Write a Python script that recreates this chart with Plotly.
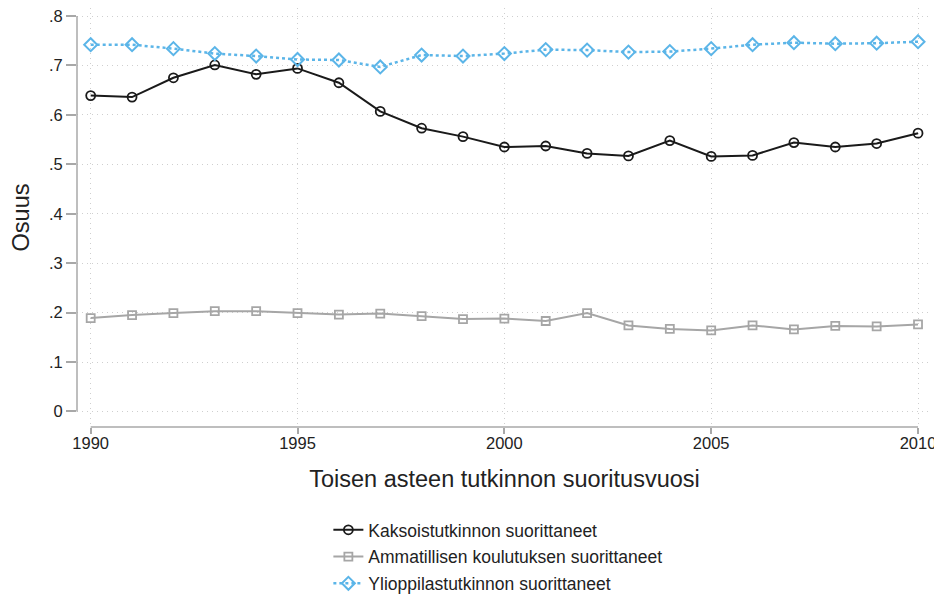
import plotly.graph_objects as go

years = list(range(1990, 2011))
kaksois = [0.639, 0.636, 0.675, 0.701, 0.682, 0.694, 0.665, 0.607, 0.573, 0.556, 0.535,
           0.537, 0.522, 0.517, 0.548, 0.516, 0.518, 0.544, 0.535, 0.542, 0.563]
ammatillinen = [0.189, 0.195, 0.199, 0.203, 0.203, 0.199, 0.196, 0.198, 0.193, 0.187, 0.188,
                0.183, 0.199, 0.174, 0.167, 0.164, 0.174, 0.166, 0.173, 0.172, 0.176]
ylioppilas = [0.742, 0.742, 0.734, 0.724, 0.719, 0.712, 0.711, 0.697, 0.721, 0.719, 0.724,
              0.732, 0.731, 0.727, 0.728, 0.734, 0.742, 0.746, 0.744, 0.745, 0.748]

names = ["Kaksoistutkinnon suorittaneet", "Ammatillisen koulutuksen suorittaneet",
         "Ylioppilastutkinnon suorittaneet"]
ytickvals = [0, 0.1, 0.2, 0.3, 0.4, 0.5, 0.6, 0.7, 0.8]
yticktext = ["0", ".1", ".2", ".3", ".4", ".5", ".6", ".7", ".8"]
xtickvals = [1990, 1995, 2000, 2005, 2010]

FONT = "Liberation Sans, Arial, sans-serif"
AXIS_COL = "#a8a8a8"
GRID_COL = "#cfcfcf"
TXT = "#222222"

fig = go.Figure()
fig.add_trace(go.Scatter(x=years, y=kaksois, name=names[0], mode="lines+markers",
                         line=dict(color="#1a1a1a", width=2),
                         marker=dict(symbol="circle-open", size=9, color="#1a1a1a",
                                     line=dict(width=1.8)),
                         legendgroup="a"))
fig.add_trace(go.Scatter(x=years, y=ammatillinen, name=names[1], mode="lines+markers",
                         line=dict(color="#a6a6a6", width=2),
                         marker=dict(symbol="square-open", size=8, color="#a6a6a6",
                                     line=dict(width=1.8)),
                         legendgroup="b"))
fig.add_trace(go.Scatter(x=years, y=ylioppilas, name=names[2], mode="lines+markers",
                         line=dict(color="#5bb5e8", width=2.5, dash="dot"),
                         marker=dict(symbol="diamond-open", size=10, color="#5bb5e8",
                                     line=dict(width=2)),
                         legendgroup="c"))

# separated axis lines (Stata style)
fig.add_shape(type="line", xref="x", yref="paper", x0=min(years), x1=max(years), y0=0, y1=0,
              line=dict(color=AXIS_COL, width=1.5))
fig.add_shape(type="line", xref="paper", yref="y", x0=0, x1=0, y0=ytickvals[0], y1=ytickvals[-1],
              line=dict(color=AXIS_COL, width=1.5))

fig.update_layout(
    width=934, height=588,
    margin=dict(l=69, r=10, t=0, b=169),
    paper_bgcolor="white", plot_bgcolor="white",
    font=dict(family=FONT, color=TXT, size=16),
    showlegend=True,
    legend=dict(x=0.294, xref="paper", y=0.143, yref="container",
                xanchor="left", yanchor="top",
                font=dict(size=17.5, color=TXT), traceorder="grouped",
                tracegroupgap=1, bgcolor="rgba(0,0,0,0)", itemwidth=30),
    xaxis=dict(range=[1989.669, 2010.338], tickvals=xtickvals, ticks="outside", ticklen=6,
               tickwidth=1.5, tickcolor=AXIS_COL, showline=False, zeroline=False,
               automargin=False, ticklabeloverflow="allow", ticklabelstandoff=-5,
               showgrid=True, gridcolor=GRID_COL, griddash="1px,4px", gridwidth=1,
               tickfont=dict(size=16.5, color=TXT),
               title=dict(text="Toisen asteen tutkinnon suoritusvuosi",
                          font=dict(size=23.5, color=TXT), standoff=19)),
    yaxis=dict(range=[-0.0314, 0.8162], tickvals=ytickvals, ticktext=yticktext,
               ticks="outside", ticklen=10, tickwidth=1.5, tickcolor=AXIS_COL,
               automargin=False, ticklabeloverflow="allow",
               showline=False, zeroline=False, showgrid=True, gridcolor=GRID_COL,
               griddash="1px,4px", gridwidth=1, tickfont=dict(size=16.5, color=TXT),
               title=dict(text="Osuus", font=dict(size=23.5, color=TXT), standoff=17)),
)

fig.write_html("out.html")
